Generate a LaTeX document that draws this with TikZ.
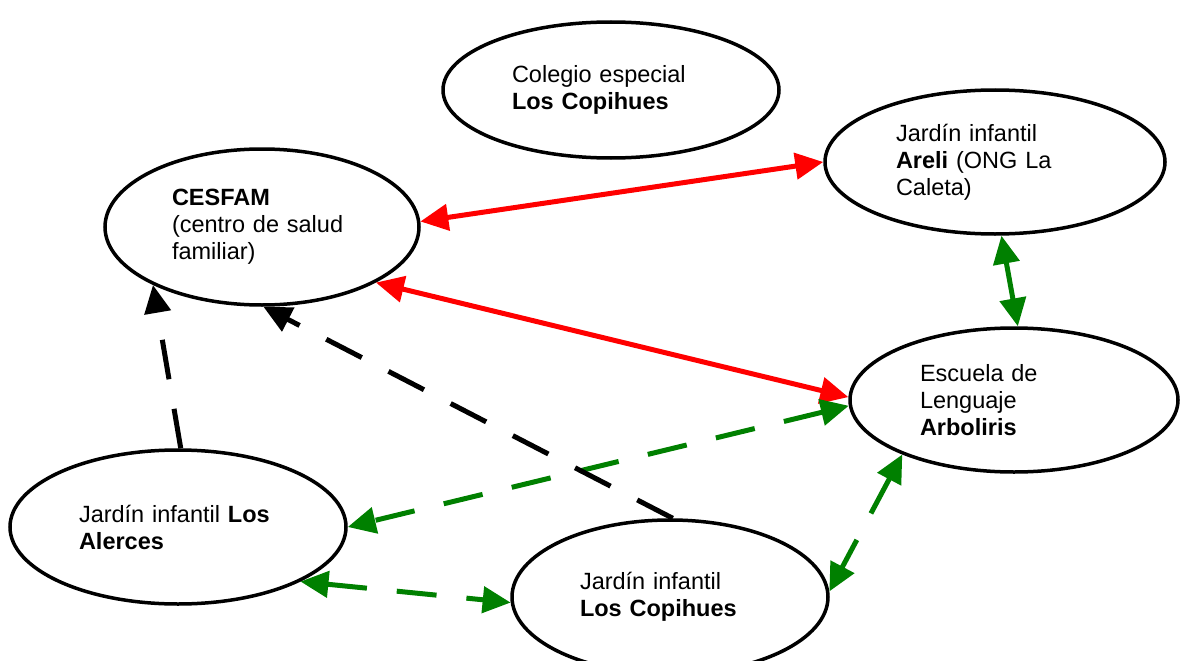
\documentclass[tikz,border=0pt]{standalone}
\usepackage{fontspec}
\setmainfont{Liberation Sans}
\usetikzlibrary{shapes.geometric,arrows.meta}

\begin{document}
\begin{tikzpicture}[x=1pt, y=-1pt,
    inst/.style = {shape=ellipse, draw, line width=3.5pt, inner sep=0pt,
      align=left, font=\fontsize{23.5}{27}\selectfont},
    link/.style = {line width=5pt,
      {Triangle[length=28pt,width=26pt]}-{Triangle[length=28pt,width=26pt]}},
    red link/.style = {link, red},
    green link/.style = {link, green!50!black},
    tie/.style = {line width=5pt, -{Triangle[length=28pt,width=26pt]}},
    dashes/.style = {dash pattern=on 40pt off 30pt}]
  \useasboundingbox (0,0) rectangle (1181,661);
  \node[inst, minimum width=336pt, minimum height=136pt, text width=198pt]
    (colegio) at (611,90) {Colegio especial\\\textbf{Los Copihues}};
  \node[inst, minimum width=314pt, minimum height=156pt, text width=180pt]
    (cesfam) at (262,227) {\textbf{CESFAM}\\(centro de salud\\familiar)};
  \node[inst, minimum width=340pt, minimum height=144pt, text width=198pt]
    (areli) at (995,162) {Jardín infantil\\\textbf{Areli} (ONG La\\Caleta)};
  \node[inst, minimum width=328pt, minimum height=144pt, text width=188pt]
    (escuela) at (1014,400) {Escuela de\\Lenguaje\\\textbf{Arboliris}};
  \node[inst, minimum width=336pt, minimum height=154pt, text width=198pt]
    (alerces) at (178,527) {Jardín infantil \textbf{Los}\\\textbf{Alerces}};
  \node[inst, minimum width=316pt, minimum height=154pt, text width=180pt]
    (copihues) at (670,597) {Jardín infantil\\\textbf{Los Copihues}};

  \draw[red link] (cesfam.2.5) -- (areli.180);
  \draw[red link] (cesfam.-26) -- (escuela.179);
  \draw[green link] (areli.-85) -- (escuela.87);
  \draw[green link, dashes] (escuela.182) -- (alerces.0);
  \draw[green link, dashes] (alerces.-24) -- (copihues.182.5);
  \draw[green link, dashes] (escuela.206) -- (copihues.2);
  \draw[tie, dashes] (alerces.88.5) -- (cesfam.208.5);
  \draw[tie, dashes] (copihues.88.5) -- (cesfam.-89);
\end{tikzpicture}
\end{document}
